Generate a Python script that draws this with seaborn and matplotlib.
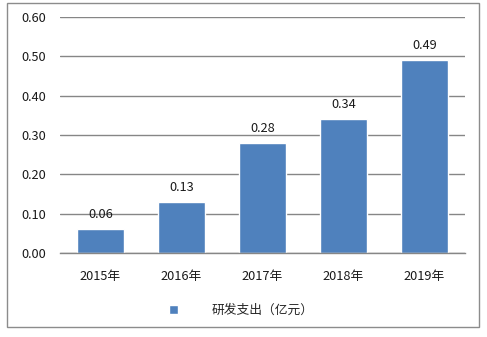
import matplotlib
matplotlib.use("Agg")
import matplotlib.pyplot as plt
from matplotlib.patches import Rectangle
import seaborn as sns
import pandas as pd

years = ["2015年", "2016年", "2017年", "2018年", "2019年"]
rd_spend = [0.06, 0.13, 0.28, 0.34, 0.49]
series_name = "研发支出（亿元）"
y_ticks = [0.0, 0.1, 0.2, 0.3, 0.4, 0.5, 0.6]

sns.set_style("white")
plt.rcParams["font.family"] = ["Noto Sans CJK SC", "DejaVu Sans"]

bar_color = "#4F81BD"
grid_color = "#868686"
text_color = "#1a1a1a"

df = pd.DataFrame({"year": years, "value": rd_spend, "series": series_name})

fig = plt.figure(figsize=(4.87, 3.37), dpi=100)
ax = fig.add_axes([0.123, 0.249, 0.832, 0.7006])

sns.barplot(data=df, x="year", y="value", hue="series", palette=[bar_color],
            width=0.57, ax=ax, legend=False, saturation=1)

ax.set_ylim(0, 0.6)
ax.set_yticks(y_ticks)
ax.set_yticklabels([f"{t:.2f}" for t in y_ticks], fontsize=9.2, color=text_color)
ax.set_xlim(-0.5, len(years) - 0.5)
ax.tick_params(axis="x", labelsize=9.2, colors=text_color, length=0, pad=12)
ax.tick_params(axis="y", length=0, pad=10)
ax.set_xlabel("")
ax.set_ylabel("")

ax.yaxis.grid(True, color=grid_color, linewidth=1)
ax.set_axisbelow(True)
for side in ["left", "right", "top"]:
    ax.spines[side].set_visible(False)
ax.spines["bottom"].set_color(grid_color)
ax.spines["bottom"].set_linewidth(1)

for container in ax.containers:
    ax.bar_label(container, labels=[f"{v:.2f}" for v in rd_spend],
                 padding=6, fontsize=9.2, color=text_color)

handle = Rectangle((0, 0), 1, 1, facecolor=bar_color)
fig.legend([handle], [series_name], loc="center", bbox_to_anchor=(0.495, 0.078),
           frameon=False, fontsize=9.2, handlelength=0.7, handleheight=0.7,
           handletextpad=2.6)

# outer chart frame
fig.patches.append(Rectangle((7 / 487, 10 / 337), 472 / 487, 324 / 337,
                             transform=fig.transFigure, fill=False,
                             edgecolor="#8c8c8c", linewidth=1))

fig.savefig("out.png", dpi=100)
